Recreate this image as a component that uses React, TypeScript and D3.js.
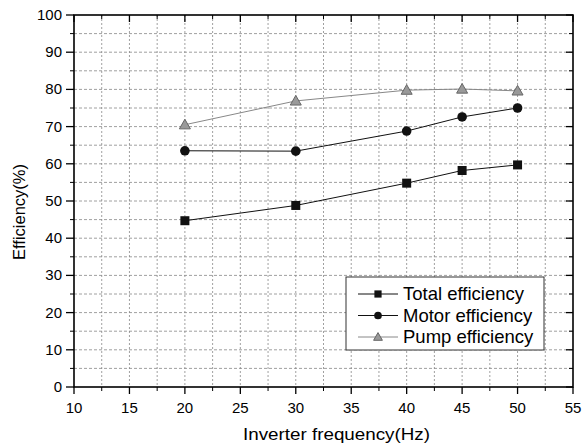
import React from "react";
import * as d3 from "d3";

const freqs = [20, 30, 40, 45, 50];
const totalEff = [44.7, 48.8, 54.8, 58.2, 59.7];
const motorEff = [63.5, 63.4, 68.8, 72.6, 75.0];
const pumpEff = [70.5, 76.9, 79.8, 80.1, 79.6];
const xTicks = [10, 15, 20, 25, 30, 35, 40, 45, 50, 55];
const yTicks = [0, 10, 20, 30, 40, 50, 60, 70, 80, 90, 100];
const seriesNames = ["Total efficiency", "Motor efficiency", "Pump efficiency"];

const W = 582, H = 445;
const L = 74, R = 573, T = 15, B = 387;

export default function App() {
  const x = d3.scaleLinear().domain([10, 55]).range([L, R]);
  const y = d3.scaleLinear().domain([0, 100]).range([B, T]);
  const line = d3.line<[number, number]>().x(d => x(d[0])).y(d => y(d[1]));
  const xMinor = d3.range(12.5, 55, 5);
  const yMinor = d3.range(5, 100, 10);
  const xGrid = d3.range(12.5, 55, 2.5);
  const yGrid = d3.range(5, 100, 5);
  const series = [
    { name: seriesNames[0], vals: totalEff, color: "#111", marker: "square" },
    { name: seriesNames[1], vals: motorEff, color: "#111", marker: "circle" },
    { name: seriesNames[2], vals: pumpEff, color: "#888", marker: "triangle" },
  ];
  const marker = (m: string, cx: number, cy: number, color: string, s = 1) => {
    if (m === "square") return <rect x={cx - 4.5 * s} y={cy - 4.5 * s} width={9 * s} height={9 * s} fill={color} />;
    if (m === "circle") return <circle cx={cx} cy={cy} r={4.8 * s} fill={color} />;
    const r = 5.5 * s;
    return <path d={`M${cx},${cy - r}L${cx + r},${cy + r * 0.75}L${cx - r},${cy + r * 0.75}Z`} fill="#999" stroke="#666" strokeWidth={1} />;
  };
  const font = "'Liberation Sans', Arial, sans-serif";
  return (
    <svg width={W} height={H} style={{ position: "absolute", left: 0, top: 0, background: "#fff" }} fontFamily={font}>
      {xGrid.map(v => (
        <line key={"gx" + v} x1={x(v)} x2={x(v)} y1={T} y2={B} stroke="#888" strokeWidth={0.8} strokeDasharray="2,2" />
      ))}
      {yGrid.map(v => (
        <line key={"gy" + v} x1={L} x2={R} y1={y(v)} y2={y(v)} stroke="#888" strokeWidth={0.8} strokeDasharray="3,2" />
      ))}
      {series.map(s => (
        <path key={s.name} d={line(freqs.map((f, i) => [f, s.vals[i]]) as [number, number][]) || ""} fill="none" stroke={s.color} strokeWidth={1} />
      ))}
      {series.map(s => freqs.map((f, i) => <g key={s.name + f}>{marker(s.marker, x(f), y(s.vals[i]), s.color)}</g>))}
      <rect x={L} y={T} width={R - L} height={B - T} fill="none" stroke="#000" strokeWidth={1.6} />
      {xTicks.map(v => (
        <g key={"xt" + v}>
          <line x1={x(v)} x2={x(v)} y1={B} y2={B + 7} stroke="#000" strokeWidth={1.3} />
          <line x1={x(v)} x2={x(v)} y1={T} y2={T + 7} stroke="#000" strokeWidth={1.3} />
          <text x={x(v)} y={413} textAnchor="middle" fontSize={15}>{v}</text>
        </g>
      ))}
      {xMinor.map(v => (
        <g key={"xm" + v}>
          <line x1={x(v)} x2={x(v)} y1={B} y2={B + 4} stroke="#000" />
          <line x1={x(v)} x2={x(v)} y1={T} y2={T + 4} stroke="#000" />
        </g>
      ))}
      {yTicks.map(v => (
        <g key={"yt" + v}>
          <line x1={L - 8} x2={L} y1={y(v)} y2={y(v)} stroke="#000" strokeWidth={1.3} />
          <line x1={R - 7} x2={R} y1={y(v)} y2={y(v)} stroke="#000" strokeWidth={1.3} />
          <text x={L - 12} y={y(v) + 5} textAnchor="end" fontSize={15}>{v}</text>
        </g>
      ))}
      {yMinor.map(v => (
        <g key={"ym" + v}>
          <line x1={L - 4} x2={L} y1={y(v)} y2={y(v)} stroke="#000" />
          <line x1={R - 4} x2={R} y1={y(v)} y2={y(v)} stroke="#000" />
        </g>
      ))}
      <text x={243} y={440} fontSize={16.5} textLength={187} lengthAdjust="spacingAndGlyphs">Inverter  frequency(Hz)</text>
      <text transform={`translate(25,212) rotate(-90)`} textAnchor="middle" fontSize={16.5}>Efficiency(%)</text>
      <g>
        <rect x={346} y={277} width={198} height={73} fill="#fff" stroke="#333" strokeWidth={1} />
        {series.map((s, i) => {
          const bl = 300 + i * 21.5;
          const ly = bl - 6;
          return (
            <g key={"lg" + i}>
              <line x1={358} x2={398} y1={ly} y2={ly} stroke={s.color} strokeWidth={1} />
              {marker(s.marker, 378, ly, s.color, 0.8)}
              <text x={403} y={bl} fontSize={18.5}>{s.name}</text>
            </g>
          );
        })}
      </g>
    </svg>
  );
}
